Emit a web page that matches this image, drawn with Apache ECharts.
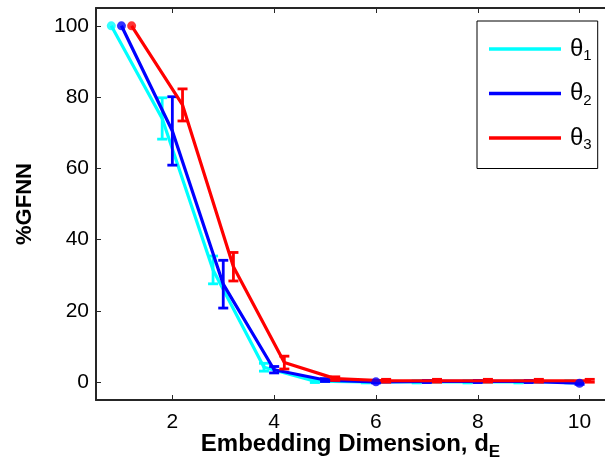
<!DOCTYPE html>
<html><head><meta charset="utf-8">
<script src="https://cdn.jsdelivr.net/npm/echarts@6/dist/echarts.min.js"></script>
<style>html,body{margin:0;padding:0;background:#fff}#c{width:605px;height:469px}</style>
</head><body><div id="c"></div>
<script>
// Embedding dimensions (x positions; series offset by -0.2, 0, +0.2)
const dims = [1,2,3,4,5,6,7,8,9,10];
const xTicks = [2,4,6,8,10];
const yTicks = [0,20,40,60,80,100];
const seriesNames = ['θ1','θ2','θ3'];
const offsets = [-0.2, 0, 0.2];
// mean %GFNN
const theta1 = [100, 74, 31.5, 4.2, 0.3, 0.1, 0.1, 0.1, 0.1, 0.1];
const theta2 = [100, 70.5, 27.5, 3.5, 0.6, 0.1, 0.2, 0.2, 0.2, -0.3];
const theta3 = [100, 77.8, 32.4, 5.5, 1.0, 0.4, 0.4, 0.4, 0.4, 0.4];
// half-width of error bars
const err1 = [0, 5.8, 3.9, 1.1, 0.4, 0.3, 0.3, 0.3, 0.3, 0.3];
const err2 = [0, 9.6, 6.7, 0.9, 0.4, 0.3, 0.3, 0.3, 0.3, 0.3];
const err3 = [0, 4.5, 4.0, 1.8, 0.5, 0.4, 0.4, 0.4, 0.4, 0.4];
// points drawn with dot markers (index into dims)
const dots1 = [0];
const dots2 = [0, 5, 9];
const dots3 = [0];
const colors = ['#00FFFF', '#0000FF', '#FF0000'];

const means = [theta1, theta2, theta3];
const errs = [err1, err2, err3];
const dotIdx = [dots1, dots2, dots3];

const chart = echarts.init(document.getElementById('c'));
const FONT = 'Liberation Sans, Arial, sans-serif';
const series = [];
means.forEach((m, s) => {
  const pts = dims.map((d, i) => [d + offsets[s], m[i]]);
  series.push({
    name: seriesNames[s], type: 'line', data: pts, symbol: 'none',
    lineStyle: {color: colors[s], width: 3.2}, itemStyle: {color: colors[s]},
    z: 2 + s, animation: false
  });
  series.push({
    type: 'custom', z: 3 + s, animation: false,
    data: dims.map((d, i) => [d + offsets[s], m[i] - errs[s][i], m[i] + errs[s][i]]).filter((r, i) => errs[s][i] > 0),
    renderItem: function (params, api) {
      const x = api.value(0);
      const lo = api.coord([x, api.value(1)]);
      const hi = api.coord([x, api.value(2)]);
      const hw = 5;
      const st = {stroke: colors[s], lineWidth: 2.8};
      return {type: 'group', children: [
        {type: 'line', shape: {x1: lo[0], y1: lo[1], x2: hi[0], y2: hi[1]}, style: st},
        {type: 'line', shape: {x1: lo[0]-hw, y1: lo[1], x2: lo[0]+hw, y2: lo[1]}, style: st},
        {type: 'line', shape: {x1: hi[0]-hw, y1: hi[1], x2: hi[0]+hw, y2: hi[1]}, style: st}
      ]};
    }
  });
  series.push({
    type: 'scatter', symbol: 'circle', symbolSize: 9, z: 4 + s, animation: false,
    itemStyle: {color: colors[s]},
    data: dotIdx[s].map(i => [dims[i] + offsets[s], m[i]])
  });
});

const axisCommon = {
  axisLine: {show: true, onZero: false, lineStyle: {color: '#262626', width: 2}},
  axisTick: {show: true, inside: true, length: 5, lineStyle: {color: '#262626', width: 1}},
  splitLine: {show: false}
};

chart.setOption({
  animation: false,
  textStyle: {fontFamily: FONT},
  grid: {left: 96, right: -10, top: 8, bottom: 69},
  xAxis: [{
    type: 'value', min: 0.5, max: 10.5, position: 'bottom', ...axisCommon,
    axisTick: {...axisCommon.axisTick, customValues: xTicks},
    axisLabel: {customValues: xTicks, fontSize: 21, color: '#000', margin: 12, fontFamily: FONT},
    name: '{b|Embedding Dimension, d}{s|E}', nameLocation: 'middle', nameGap: 28,
    nameMoveOverlap: false,
    nameTextStyle: {rich: {
      b: {fontSize: 24, fontWeight: 'bold', color: '#000', fontFamily: FONT},
      s: {fontSize: 17, fontWeight: 'bold', color: '#000', fontFamily: FONT, padding: [16, 0, 0, 0]}
    }}
  }, {
    type: 'value', min: 0.5, max: 10.5, position: 'top', ...axisCommon,
    axisTick: {...axisCommon.axisTick, customValues: xTicks},
    axisLabel: {show: false}
  }],
  yAxis: [{
    type: 'value', min: -5, max: 105, ...axisCommon,
    axisTick: {...axisCommon.axisTick, customValues: yTicks},
    axisLabel: {customValues: yTicks, fontSize: 21, color: '#000', margin: 7, fontFamily: FONT},
    name: '%GFNN', nameLocation: 'middle', nameRotate: 90, nameGap: 60,
    nameMoveOverlap: false,
    nameTextStyle: {fontSize: 22, fontWeight: 'bold', color: '#000', fontFamily: FONT}
  }],
  legend: {
    orient: 'vertical', left: 477, top: 21, width: 126,
    padding: [16, 6, 16, 12], itemGap: 18, itemWidth: 72, itemHeight: 3.5,
    icon: 'rect', borderColor: '#000', borderWidth: 1, backgroundColor: '#fff',
    data: seriesNames.map((n, i) => ({name: n, itemStyle: {color: colors[i]}})),
    formatter: n => '{t|θ}{s|' + n.slice(1) + '}',
    textStyle: {padding: [0, 0, 0, 4], rich: {
      t: {fontSize: 24, color: '#000', fontFamily: FONT},
      s: {fontSize: 15, color: '#000', fontFamily: FONT, padding: [14, 0, 0, 0]}
    }}
  },
  series: series
});
</script></body></html>
